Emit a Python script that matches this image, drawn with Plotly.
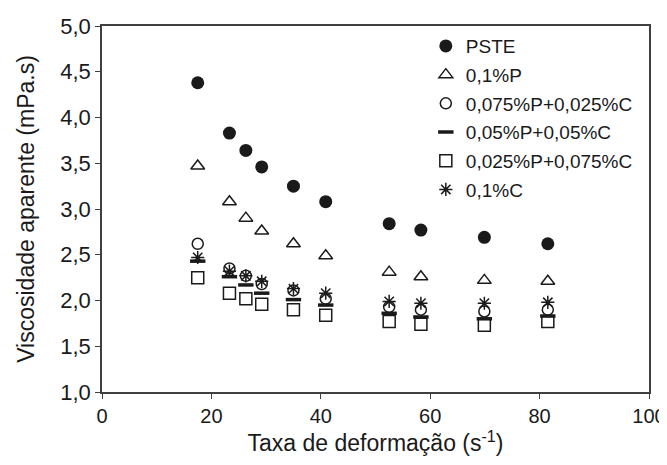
import plotly.graph_objects as go

shear_rate = [17.5, 23.3, 26.3, 29.2, 35.0, 40.9, 52.5, 58.3, 69.9, 81.5]
pste = [4.38, 3.83, 3.64, 3.46, 3.25, 3.08, 2.84, 2.77, 2.69, 2.62]
p_01 = [3.47, 3.08, 2.90, 2.76, 2.62, 2.49, 2.31, 2.26, 2.22, 2.21]
p075_c025 = [2.62, 2.35, 2.27, 2.18, 2.11, 2.02, 1.93, 1.90, 1.88, 1.90]
p05_c05 = [2.43, 2.26, 2.17, 2.08, 2.01, 1.95, 1.86, 1.82, 1.80, 1.83]
p025_c075 = [2.25, 2.08, 2.02, 1.96, 1.90, 1.84, 1.77, 1.74, 1.73, 1.77]
c_01 = [2.47, 2.32, 2.27, 2.21, 2.13, 2.08, 1.99, 1.97, 1.97, 1.98]

names = ["PSTE", "0,1%P", "0,075%P+0,025%C", "0,05%P+0,05%C", "0,025%P+0,075%C", "0,1%C"]
series = [pste, p_01, p075_c025, p05_c05, p025_c075, c_01]
symbols = ["circle", "triangle-up-open", "circle-open", "line-ew", "square-open", "asterisk-open"]
sizes = [13, 12, 11, 11, 12, 11]
widths = [0, 1.5, 1.5, 3.5, 1.5, 1.5]

ink = "#1a1a1a"
fig = go.Figure()
for name, ys, sym, sz, w in zip(names, series, symbols, sizes, widths):
    fig.add_trace(go.Scatter(
        x=shear_rate, y=ys, mode="markers", name=name, legendgroup=name,
        marker=dict(symbol=sym, size=sz, color=ink, line=dict(color=ink, width=w)),
    ))

axis_common = dict(
    showline=True, linecolor="#404040", linewidth=1.5, mirror=True,
    ticks="outside", ticklen=5, tickwidth=1.2, tickcolor="#404040",
    showgrid=False, zeroline=False, automargin=False, ticklabeloverflow="allow",
)

# page body has an 8px default margin, so the figure is sized to fit the window
fig.update_layout(
    width=659, height=449,
    margin=dict(l=94, r=18, t=18, b=65),
    paper_bgcolor="white", plot_bgcolor="white",
    separators=",.",
    font=dict(family="Liberation Sans, Arial", color=ink),
    xaxis=dict(range=[0, 100], tickvals=[0, 20, 40, 60, 80, 100],
               tickfont=dict(family="Liberation Sans, Arial", size=20, color=ink),
               title=dict(text="Taxa de deformação (s<sup>-1</sup>)", font=dict(size=23, color=ink), standoff=0),
               **axis_common),
    yaxis=dict(range=[1, 5], tickvals=[1, 1.5, 2, 2.5, 3, 3.5, 4, 4.5, 5], tickformat=".1f",
               tickfont=dict(family="Liberation Sans, Arial", size=22, color=ink),
               title=dict(text="Viscosidade aparente (mPa.s)", font=dict(size=23, color=ink), standoff=19),
               **axis_common),
    legend=dict(x=0.592, y=0.997, xanchor="left", yanchor="top",
                font=dict(size=19, color=ink), bgcolor="rgba(0,0,0,0)",
                itemwidth=30, tracegroupgap=1, traceorder="grouped"),
)

fig.write_html("out.html")
